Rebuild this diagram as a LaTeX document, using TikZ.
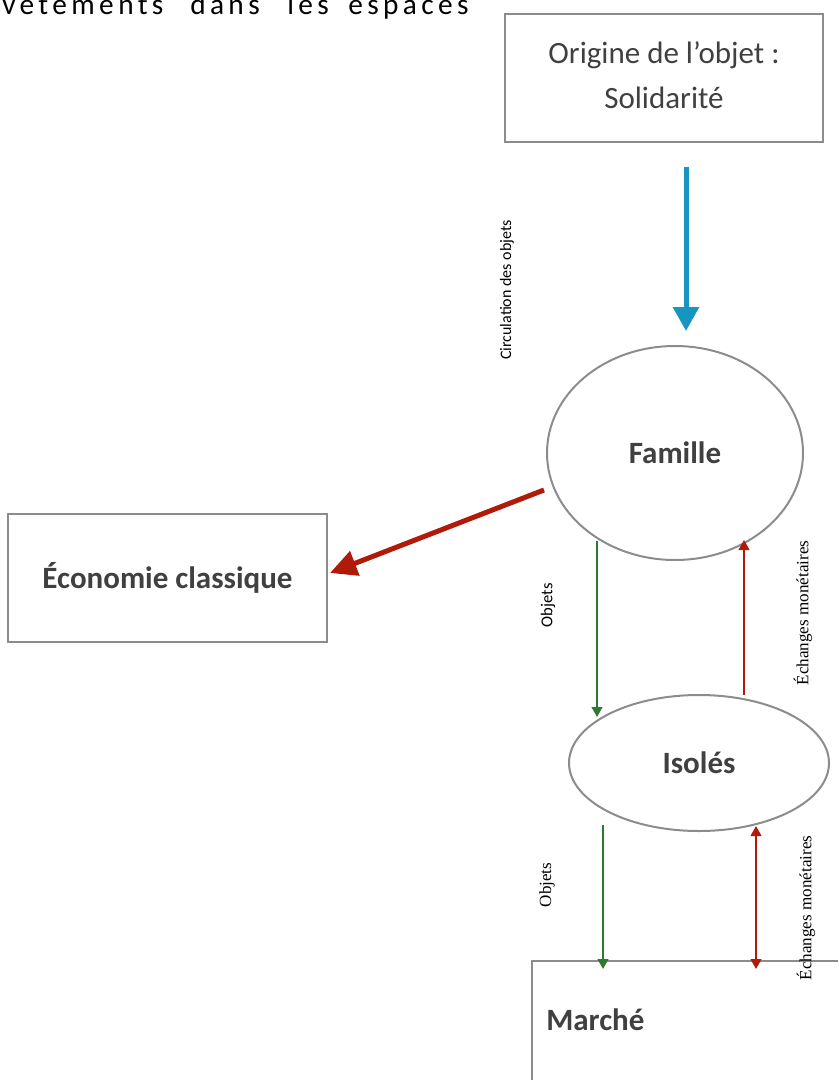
\documentclass[tikz,border=0pt]{standalone}
\usepackage{fontspec}
\setmainfont{Carlito}
\newfontfamily\serifx{Liberation Serif}
\usetikzlibrary{shapes.geometric,arrows.meta}
\definecolor{bordergray}{RGB}{140,140,140}
\definecolor{txtgray}{RGB}{64,64,64}
\definecolor{arrowblue}{RGB}{24,148,192}
\definecolor{arrowred}{RGB}{176,26,8}
\definecolor{arrowgreen}{RGB}{46,122,48}
\tikzset{
  boxnode/.style={draw=bordergray, line width=1.5pt, rectangle, inner sep=0pt, text=txtgray},
  ellnode/.style={draw=bordergray, line width=1.5pt, ellipse, inner sep=0pt, text=txtgray,
    font=\fontsize{23.25}{28}\selectfont\bfseries},
  bigbold/.style={font=\fontsize{23.25}{28}\selectfont\bfseries, text=txtgray},
  toptxt/.style={anchor=base west, inner sep=0pt, font=\fontsize{22}{24}\selectfont\addfontfeature{LetterSpace=15}},
  thinarrow/.style={line width=1.5pt, -{Triangle[width=8pt,length=7.5pt]}},
  thindouble/.style={line width=1.5pt, {Triangle[width=8pt,length=7.5pt]}-{Triangle[width=8pt,length=7.5pt]}},
  smallsans/.style={rotate=90, inner sep=0pt, font=\fontsize{12.5}{14}\selectfont},
  smallserif/.style={rotate=90, inner sep=0pt, font=\serifx\fontsize{12.8}{14}\selectfont},
}
\begin{document}
\begin{tikzpicture}[x=0.75pt, y=-0.75pt]
\useasboundingbox (0,0) rectangle (838,1080);
\clip (0,0) rectangle (838,1080);

% clipped text at the top
\node[toptxt] (top1) at (2,15) {vêtements};
\node[toptxt] (top2) at (190,15) {dans};
\node[toptxt] (top3) at (287,15) {les};
\node[toptxt] (top4) at (348,15) {espaces};

% nodes
\node[boxnode, minimum width=238.5pt, minimum height=96pt, align=center,
  font=\fontsize{23.25}{33.75}\selectfont] (origine) at (664,78)
  {Origine de l’objet :\\Solidarité\vphantom{p}};
\node[ellnode, minimum width=192pt, minimum height=160.5pt] (famille) at (675,453) {Famille};
\node[ellnode, minimum width=195pt, minimum height=102pt] (isoles) at (699,763) {Isolés};
\node[boxnode, bigbold, minimum width=239.25pt, minimum height=96pt] (economie) at (167.5,578) {Économie classique};
\node[boxnode, anchor=north west, minimum width=240pt, minimum height=120pt] (marche) at (531,960) {};
\node[bigbold, anchor=west, inner sep=0pt] (marchetxt) at (546,1020) {Marché};

% connector end points
\coordinate (b1) at (686,167);
\coordinate (b2) at (686,331);
\coordinate (r1) at (544,490);
\coordinate (r2) at (330,573);
\coordinate (g1s) at (597,541);
\coordinate (g1e) at (597,717);
\coordinate (m1s) at (744,695);
\coordinate (m1e) at (744,540);
\coordinate (g2s) at (603,825);
\coordinate (g2e) at (603,969);
\coordinate (m2s) at (756,969);
\coordinate (m2e) at (756,826);

% connectors
\draw[arrowblue, line width=3.75pt, -{Triangle[width=19pt,length=18pt]}] (b1) -- (b2);
\draw[arrowred, line width=3.75pt, -{Triangle[width=19pt,length=20pt]}] (r1) -- (r2);
\draw[arrowgreen, thinarrow] (g1s) -- (g1e);
\draw[arrowred, thinarrow] (m1s) -- (m1e);
\draw[arrowgreen, thinarrow] (g2s) -- (g2e);
\draw[arrowred, thindouble] (m2s) -- (m2e);

% labels
\node[smallsans, font=\fontsize{12}{14}\selectfont] (lcirc) at (507,290) {Circulation des objets};
\node[smallsans] (lobj1) at (548,605) {Objets};
\node[smallserif] (lech1) at (803,613) {Échanges monétaires};
\node[smallserif] (lobj2) at (547,885) {Objets};
\node[smallserif] (lech2) at (806,908) {Échanges monétaires};
\end{tikzpicture}
\end{document}
